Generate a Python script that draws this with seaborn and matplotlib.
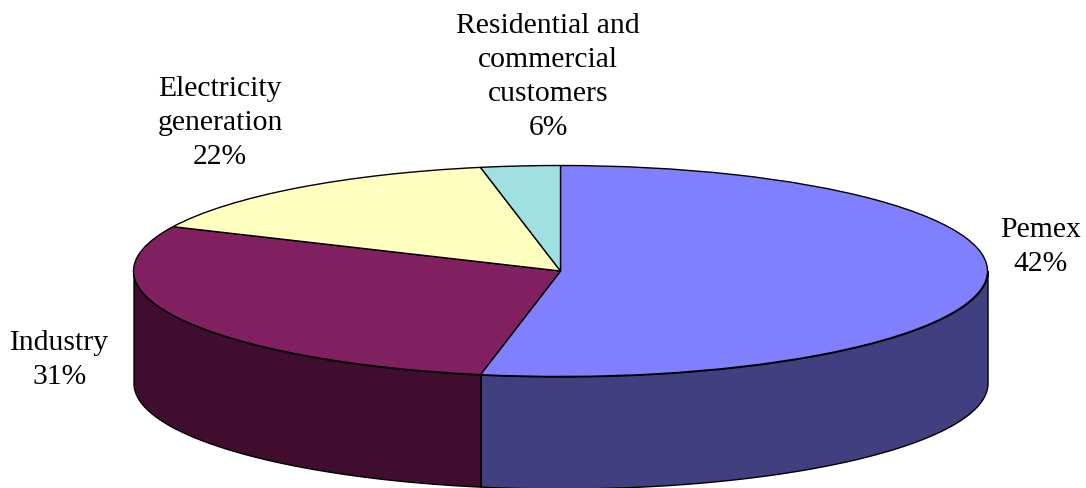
import matplotlib
matplotlib.use("Agg")
import matplotlib.pyplot as plt
import numpy as np
import seaborn as sns

# text of the labels
labels = ["Pemex", "Industry", "Electricity\ngeneration", "Residential and\ncommercial\ncustomers"]
percents = [42, 31, 22, 6]
# share of the ellipse each slice covers as drawn (the 3D tilt distorts them)
drawn_shares = [53.0, 28.9, 15.1, 3.0]

top_colors = ["#8080FF", "#802060", "#FFFFC0", "#A0E0E0"]
side_colors = ["#404080", "#400D2E", "#808060", "#507070"]

# centre of each label block in pixels
label_xy = [(1041, 247), (60, 360), (220, 123), (548, 77)]

W, H = 1086, 489
CX, CY, RX, RY = 560.5, 272, 427, 105.5
DEPTH = 112 / RY

sns.set_theme(style="white")
plt.rcParams["font.family"] = ["Liberation Serif", "DejaVu Serif"]

fig = plt.figure(figsize=(W / 100, H / 100), dpi=100)
ax = fig.add_axes([0, 0, 1, 1])

# side wall: only the front half of the disc shows
edges = np.cumsum([0] + drawn_shares) / sum(drawn_shares) * 360
for start, end, color in zip(edges[:-1], edges[1:], side_colors):
    lo, hi = max(start, 90), min(end, 270)
    if lo >= hi:
        continue
    a = np.radians(np.linspace(lo, hi, 200))
    ax.fill_between(np.sin(a), np.cos(a), np.cos(a) - DEPTH,
                    facecolor=color, edgecolor="black", linewidth=1.0)

# top face
ax.pie(drawn_shares, colors=top_colors, startangle=90, counterclock=False,
       radius=1, wedgeprops={"edgecolor": "black", "linewidth": 1.0})

# stretch the unit circle into the tilted ellipse
ax.set_aspect("auto")
ax.set_xlim(-CX / RX, (W - CX) / RX)
ax.set_ylim((CY - H) / RY, CY / RY)
ax.set_axis_off()

for name, pct, (px, py) in zip(labels, percents, label_xy):
    fig.text(px / W, 1 - py / H, f"{name}\n{pct}%", ha="center", va="center",
             ma="center", fontsize=21.3, linespacing=1.4, color="black")

fig.savefig("out.png", dpi=100)
